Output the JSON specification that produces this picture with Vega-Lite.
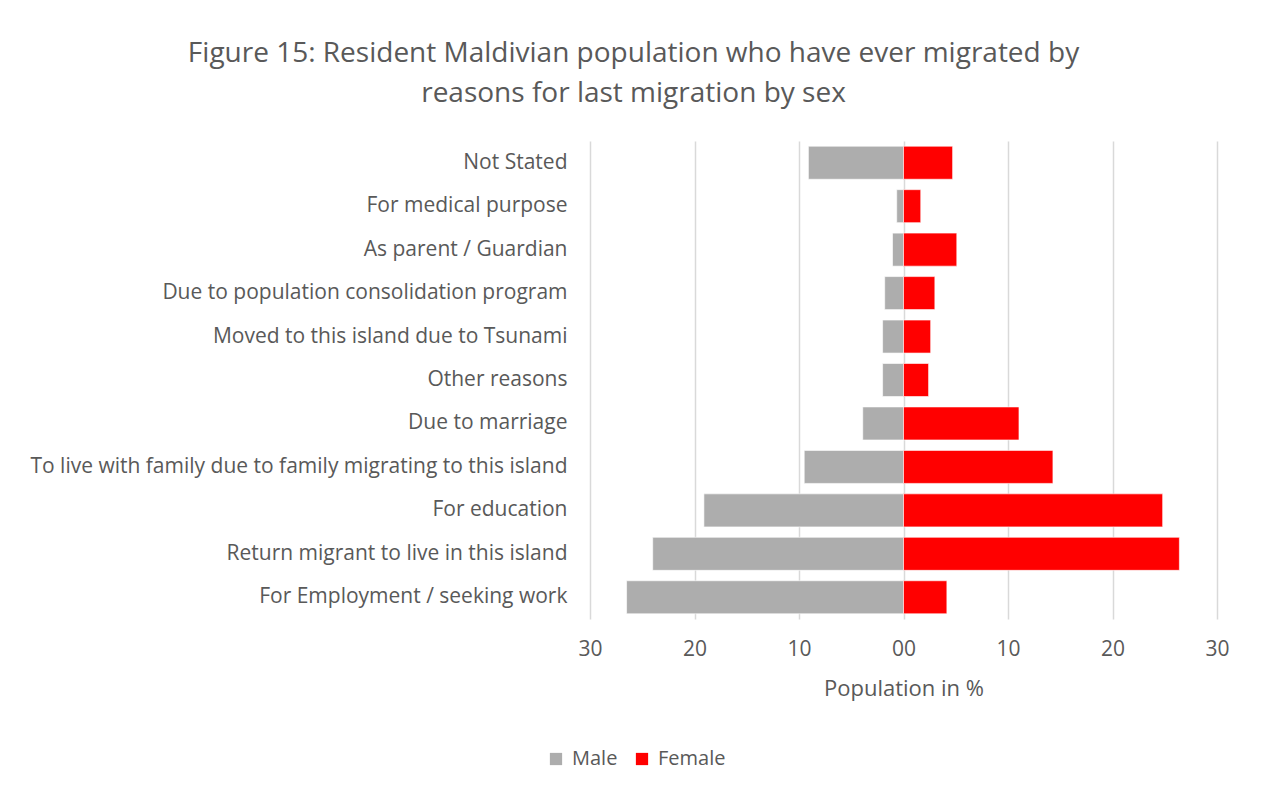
{
  "$schema": "https://vega.github.io/schema/vega-lite/v6.json",
  "autosize": {"type": "none"},
  "padding": {"left": 590, "top": 141, "right": 45, "bottom": 176},
  "width": 627,
  "height": 478,
  "background": "white",
  "title": {
    "text": ["Figure 15:  Resident Maldivian population  who have ever migrated by", "reasons for  last migration by sex"],
    "anchor": "middle",
    "dx": -270,
    "offset": 33,
    "font": "Open Sans",
    "fontSize": 28,
    "fontWeight": "normal",
    "color": "#595959",
    "lineHeight": 40
  },
  "data": {
    "values": [
      {"reason": "Not Stated", "sex": "Male", "value": -9.1},
      {"reason": "Not Stated", "sex": "Female", "value": 4.7},
      {"reason": "For medical purpose", "sex": "Male", "value": -0.65},
      {"reason": "For medical purpose", "sex": "Female", "value": 1.65},
      {"reason": "As parent / Guardian", "sex": "Male", "value": -1.05},
      {"reason": "As parent / Guardian", "sex": "Female", "value": 5.1},
      {"reason": "Due to population consolidation program", "sex": "Male", "value": -1.8},
      {"reason": "Due to population consolidation program", "sex": "Female", "value": 3.0},
      {"reason": "Moved to this island due to Tsunami", "sex": "Male", "value": -2.0},
      {"reason": "Moved to this island due to Tsunami", "sex": "Female", "value": 2.6},
      {"reason": "Other reasons", "sex": "Male", "value": -2.0},
      {"reason": "Other reasons", "sex": "Female", "value": 2.4},
      {"reason": "Due to marriage", "sex": "Male", "value": -3.9},
      {"reason": "Due to marriage", "sex": "Female", "value": 11.05},
      {"reason": "To live with family due to family migrating to this island", "sex": "Male", "value": -9.5},
      {"reason": "To live with family due to family migrating to this island", "sex": "Female", "value": 14.3},
      {"reason": "For education", "sex": "Male", "value": -19.1},
      {"reason": "For education", "sex": "Female", "value": 24.8},
      {"reason": "Return migrant to live in this island", "sex": "Male", "value": -24.0},
      {"reason": "Return migrant to live in this island", "sex": "Female", "value": 26.4},
      {"reason": "For Employment / seeking work", "sex": "Male", "value": -26.5},
      {"reason": "For Employment / seeking work", "sex": "Female", "value": 4.15}
    ]
  },
  "mark": {"type": "bar", "stroke": "#ffffff", "strokeOpacity": 0.6, "strokeWidth": 1},
  "encoding": {
    "y": {
      "field": "reason",
      "type": "nominal",
      "sort": ["Not Stated", "For medical purpose", "As parent / Guardian", "Due to population consolidation program", "Moved to this island due to Tsunami", "Other reasons", "Due to marriage", "To live with family due to family migrating to this island", "For education", "Return migrant to live in this island", "For Employment / seeking work"],
      "scale": {"paddingInner": 0.24, "paddingOuter": 0.12},
      "axis": {
        "title": null,
        "domain": false,
        "ticks": false,
        "labelPadding": 23,
        "labelFont": "Open Sans",
        "labelFontSize": 21,
        "labelColor": "#595959",
        "labelLimit": 700
      }
    },
    "x": {
      "field": "value",
      "type": "quantitative",
      "stack": null,
      "scale": {"domain": [-30, 30], "nice": false},
      "axis": {
        "values": [-30, -20, -10, 0, 10, 20, 30],
        "labelExpr": "datum.value == 0 ? '00' : format(abs(datum.value), 'd')",
        "labelFlush": false,
        "title": "Population in %",
        "titleFont": "Open Sans",
        "titleFontSize": 22,
        "titleFontWeight": "normal",
        "titleColor": "#595959",
        "titlePadding": 19,
        "labelFont": "Open Sans",
        "labelFontSize": 21,
        "labelColor": "#595959",
        "labelPadding": 19,
        "domain": false,
        "ticks": false,
        "grid": true,
        "gridColor": "#d9d9d9",
        "gridWidth": 1.5
      }
    },
    "color": {
      "field": "sex",
      "type": "nominal",
      "scale": {"domain": ["Male", "Female"], "range": ["#adadad", "#ff0000"]},
      "legend": {
        "title": null,
        "orient": "none",
        "direction": "horizontal",
        "legendX": -44,
        "legendY": 608,
        "symbolType": "square",
        "symbolSize": 150,
        "symbolStrokeWidth": 0,
        "labelFont": "Open Sans",
        "labelFontSize": 20,
        "labelColor": "#595959",
        "columnPadding": 14,
        "labelOffset": 6
      }
    }
  },
  "config": {"view": {"stroke": null}}
}
